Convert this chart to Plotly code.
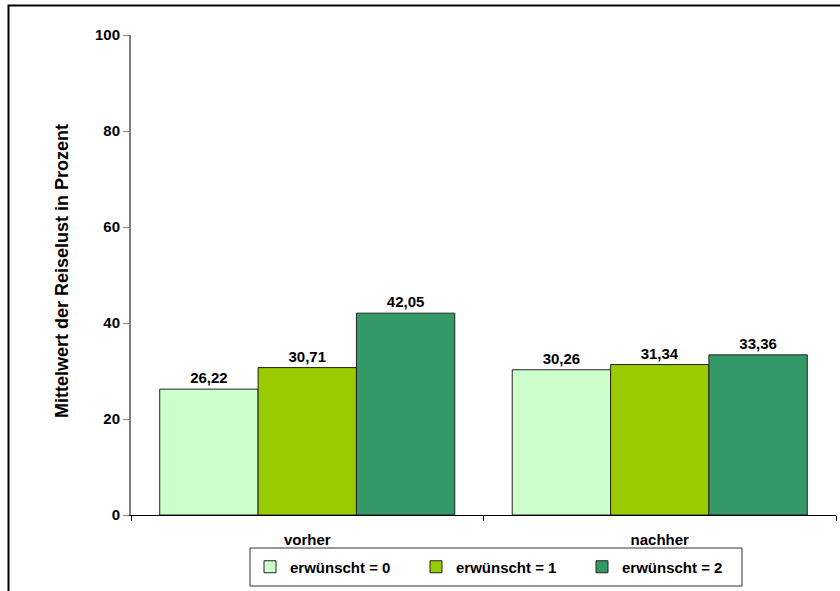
import plotly.graph_objects as go

CATEGORIES = ['vorher', 'nachher']
SERIES_NAMES = ['erwünscht = 0', 'erwünscht = 1', 'erwünscht = 2']
VALUES = [
    [26.22, 30.26],
    [30.71, 31.34],
    [42.05, 33.36],
]
COLORS = ['#CCFFCC', '#99CC00', '#339966']
Y_TICKS = [0, 20, 40, 60, 80, 100]

FONT = 'Liberation Sans, Arial, sans-serif'

# plot area in pixels (for placing frame / legend box)
L, R, T, B = 131, 4, 35, 76
PW, PH = 840 - L - R, 591 - T - B


def px_x(x):
    return (x - L) / PW


def px_y(y):
    return (591 - B - y) / PH


fig = go.Figure()
for name, vals, color in zip(SERIES_NAMES, VALUES, COLORS):
    fig.add_trace(go.Bar(
        x=CATEGORIES, y=vals, name=name,
        marker=dict(color=color, line=dict(color='#222222', width=1)),
        texttemplate='%{y:.2f}', textposition='outside', cliponaxis=False,
        textfont=dict(family=FONT, size=15, color='black', weight='bold'),
    ))

fig.update_layout(
    width=840, height=591,
    margin=dict(l=L, r=R, t=T, b=B, autoexpand=False),
    paper_bgcolor='white', plot_bgcolor='white',
    font=dict(family=FONT, size=15, color='black', weight='bold'),
    separators=', ',
    barmode='group', bargap=0.163, bargroupgap=0,
    showlegend=True,
    legend=dict(
        orientation='h', x=px_x(250), xanchor='left', y=px_y(567), yanchor='middle',
        borderwidth=0, bgcolor='rgba(0,0,0,0)',
        entrywidth=121, font=dict(family=FONT, size=15, weight='bold'),
    ),
    xaxis=dict(
        type='category', showline=True, linecolor='black', linewidth=1,
        ticks='outside', tickson='boundaries', ticklen=5, tickcolor='black',
        ticklabelstandoff=11, showgrid=False, automargin=False,
    ),
    yaxis=dict(
        range=[0, 100], tickvals=Y_TICKS, showline=True, linecolor='#808080',
        linewidth=2, ticks='outside', ticklen=6, tickcolor='#808080',
        showgrid=False, zeroline=False, automargin=False,
    ),
)

# y-axis title
fig.add_annotation(
    text='Mittelwert der Reiselust in Prozent', xref='paper', yref='paper',
    x=px_x(62), y=px_y(271), textangle=-90, showarrow=False,
    xanchor='center', yanchor='middle',
    font=dict(family=FONT, size=18, weight='bold'),
)

# outer chart frame (only top and left edges visible in the picture)
fig.add_shape(type='rect', xref='paper', yref='paper',
              x0=px_x(8.5), x1=px_x(860), y0=px_y(620), y1=px_y(5.5),
              line=dict(color='black', width=2), layer='below')

# legend box
fig.add_shape(type='rect', xref='paper', yref='paper',
              x0=px_x(250), x1=px_x(742), y0=px_y(586), y1=px_y(548),
              line=dict(color='#333333', width=1), fillcolor='white', layer='below')

fig.write_html('out.html', config={'displayModeBar': False},
               post_script="document.body.style.margin='0';document.body.style.overflow='hidden';")
